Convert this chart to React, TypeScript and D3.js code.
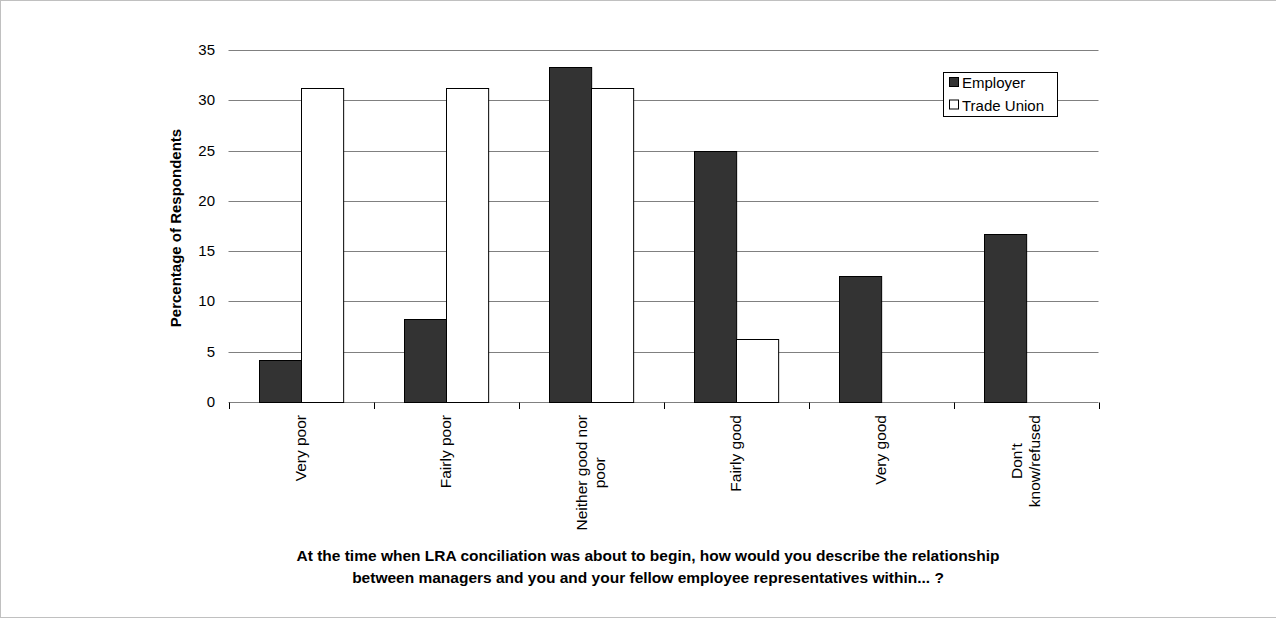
import React, { useEffect, useRef } from "react";
import * as d3 from "d3";

const categories: string[][] = [
  ["Very poor"],
  ["Fairly poor"],
  ["Neither good nor", "poor"],
  ["Fairly good"],
  ["Very good"],
  ["Don't", "know/refused"],
];
const employer = [4.2, 8.3, 33.3, 25.0, 12.5, 16.7];
const tradeUnion = [31.25, 31.25, 31.25, 6.25, 0, 0];
const seriesNames = ["Employer", "Trade Union"];
const yTicks = [0, 5, 10, 15, 20, 25, 30, 35];
const yLabel = "Percentage of Respondents";
const titleLines = [
  "At the time when LRA conciliation was about to begin, how would you describe the relationship",
  "between managers and you and your fellow employee representatives within... ?",
];

const W = 1276;
const H = 619;
const FONT = "'Liberation Sans', Arial, sans-serif";

export default function App() {
  const ref = useRef<SVGSVGElement | null>(null);

  useEffect(() => {
    const svg = d3.select(ref.current);
    svg.selectAll("*").remove();

    const left = 228.5, right = 1098.5, top = 50, bottom = 402;
    const x = d3.scaleBand<number>().domain(d3.range(categories.length)).range([left, right]).padding(0);
    const y = d3.scaleLinear().domain([0, 35]).range([bottom, top]);
    const inner = d3.scaleBand<number>().domain([0, 1]).range([0, x.bandwidth()]).paddingInner(0).paddingOuter(0.72);

    // border
    svg.append("rect").attr("x", 0.5).attr("y", 0.5).attr("width", W).attr("height", 617)
      .attr("fill", "#fff").attr("stroke", "#c0c0c0").attr("stroke-width", 1);

    // gridlines
    svg.append("g").selectAll("line").data(yTicks).join("line")
      .attr("x1", left).attr("x2", right)
      .attr("y1", (d) => Math.round(y(d)) + 0.5).attr("y2", (d) => Math.round(y(d)) + 0.5)
      .attr("stroke", "#808080").attr("stroke-width", 1);

    // y tick labels
    svg.append("g").selectAll("text").data(yTicks).join("text")
      .attr("x", 215).attr("y", (d) => y(d) + 5)
      .attr("text-anchor", "end").attr("font-family", FONT).attr("font-size", 15).attr("fill", "#000")
      .text((d) => String(d));

    // bars
    const series = [employer, tradeUnion];
    const fills = ["#333333", "#ffffff"];
    series.forEach((vals, si) => {
      svg.append("g").selectAll("rect").data(vals).join("rect")
        .attr("x", (_d, i) => Math.round((x(i) as number) + (inner(si) as number)) + 0.5)
        .attr("y", (d) => Math.round(y(d)) + 0.5)
        .attr("width", inner.bandwidth())
        .attr("height", (d) => Math.max(0, Math.round(y(0)) - Math.round(y(d))))
        .attr("fill", fills[si]).attr("stroke", "#000").attr("stroke-width", 1)
        .attr("display", (d) => (d > 0 ? null : "none"));
    });

    // x axis ticks
    const bounds = d3.range(categories.length + 1).map((i) => left + i * x.bandwidth());
    svg.append("g").selectAll("line").data(bounds).join("line")
      .attr("x1", (d) => Math.round(d) + 0.5).attr("x2", (d) => Math.round(d) + 0.5)
      .attr("y1", Math.round(y(0)) + 0.5).attr("y2", Math.round(y(0)) + 7)
      .attr("stroke", "#000").attr("stroke-width", 1);

    // x labels
    categories.forEach((lines, i) => {
      const cx = (x(i) as number) + x.bandwidth() / 2;
      const g = svg.append("g");
      const texts = lines.map((ln) =>
        g.append("text").attr("font-family", FONT).attr("font-size", 15.5).attr("fill", "#000")
          .attr("text-anchor", "middle").text(ln)
      );
      const maxLen = d3.max(texts.map((t) => (t.node() as SVGTextElement).getComputedTextLength())) || 0;
      const cy = 415 + maxLen / 2;
      const lh = 18;
      const n = lines.length;
      texts.forEach((t, k) => {
        const off = (k - (n - 1) / 2) * lh;
        const px = cx + off + 5;
        t.attr("transform", `translate(${px},${cy}) rotate(-90)`);
      });
    });

    // y label
    svg.append("text")
      .attr("transform", `translate(181,${(top + bottom) / 2 + 2}) rotate(-90)`)
      .attr("text-anchor", "middle").attr("font-family", FONT).attr("font-size", 15)
      .attr("font-weight", "bold").attr("fill", "#000").text(yLabel);

    // title
    svg.append("g").selectAll("text").data(titleLines).join("text")
      .attr("x", 648).attr("y", (_d, i) => 561 + i * 22)
      .attr("text-anchor", "middle").attr("font-family", FONT).attr("font-size", 15.5)
      .attr("font-weight", "bold").attr("fill", "#000").text((d) => d);

    // legend
    const lg = svg.append("g");
    lg.append("rect").attr("x", 943.5).attr("y", 72.5).attr("width", 114).attr("height", 44)
      .attr("fill", "#fff").attr("stroke", "#000").attr("stroke-width", 1);
    seriesNames.forEach((nm, i) => {
      const yy = 83 + i * 22.5;
      lg.append("rect").attr("x", 949.5).attr("y", yy - 5.5).attr("width", 9).attr("height", 9)
        .attr("fill", fills[i]).attr("stroke", "#000").attr("stroke-width", 1);
      lg.append("text").attr("x", 962).attr("y", yy + 5).attr("font-family", FONT).attr("font-size", 15)
        .attr("fill", "#000").text(nm);
    });
  }, []);

  return (
    <svg ref={ref} width={W} height={H}
      style={{ position: "absolute", left: 0, top: 0, display: "block", background: "#fff" }} />
  );
}
